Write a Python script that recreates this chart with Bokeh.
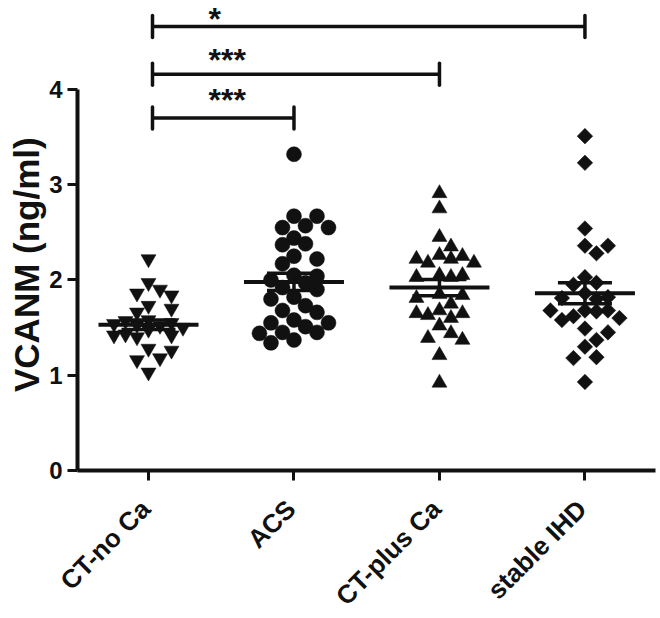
import math
import numpy as np
from bokeh.plotting import figure
from bokeh.models import FixedTicker, Range1d, ColumnDataSource
from bokeh.core.properties import value
from bokeh.embed import file_html
from bokeh.resources import INLINE

# ---------------- data ----------------
categories = ["CT-no Ca", "ACS", "CT-plus Ca", "stable IHD"]

ct_no_ca = [2.22, 1.97, 1.90, 1.86, 1.84, 1.73, 1.70, 1.66, 1.58, 1.57, 1.55,
            1.54, 1.53, 1.52, 1.50, 1.48, 1.43, 1.42, 1.42, 1.40, 1.28, 1.26,
            1.18, 1.16, 1.03]
acs = [3.32, 2.67, 2.67, 2.57, 2.55, 2.55, 2.44, 2.38, 2.37, 2.25, 2.22, 2.17,
       2.05, 2.04, 2.00, 1.97, 1.92, 1.90, 1.82, 1.80, 1.73, 1.68, 1.66, 1.58,
       1.55, 1.55, 1.51, 1.45, 1.44, 1.45, 1.37, 1.34]
ct_plus_ca = [2.91, 2.75, 2.45, 2.35, 2.26, 2.25, 2.22, 2.22, 2.18, 2.18, 2.05,
              2.05, 2.03, 2.03, 1.85, 1.84, 1.81, 1.75, 1.68, 1.65, 1.65, 1.63,
              1.60, 1.52, 1.44, 1.39, 1.37, 1.21, 0.92]
stable_ihd = [3.51, 3.23, 2.54, 2.36, 2.36, 2.28, 2.03, 1.97, 1.95, 1.86, 1.82,
              1.81, 1.80, 1.68, 1.68, 1.68, 1.67, 1.62, 1.60, 1.58, 1.49, 1.45,
              1.37, 1.30, 1.19, 1.18, 0.93]

group_means = [1.53, 1.98, 1.92, 1.86]
group_sems = [0.05, 0.09, 0.085, 0.11]

sig_labels = ["***", "***", "*"]
sig_from = [1, 1, 1]
sig_to = [2, 3, 4]
sig_levels = [3.70, 4.16, 4.66]

y_ticks = [0, 1, 2, 3, 4]
y_title = "VCANM (ng/ml)"

# ---------------- layout / style ----------------
W, H = 660, 618
H_LAB = 126                      # strip below the axis for the category labels
H_MAIN = H - H_LAB
BL, BR, BT, BB = 77, 5, 0, H_MAIN - 470
X0, X1 = 0.512, 4.485
Y0, Y1 = 0.0, 4.934
px_x = (W - BL - BR) / (X1 - X0)
px_y = (H_MAIN - BT - BB) / (Y1 - Y0)
INK = "#111111"
FONT = "Liberation Sans"

p = figure(width=W, height=H_MAIN, output_backend="svg", toolbar_location=None,
           x_range=Range1d(X0, X1), y_range=Range1d(Y0, Y1),
           min_border_left=BL, min_border_right=BR, min_border_top=BT,
           min_border_bottom=BB)
p.outline_line_color = None
p.grid.visible = False
p.background_fill_color = "white"
p.border_fill_color = "white"


def swarm(vals, step_px=11.5, dmin=12.5, max_cols=3):
    """Greedy column swarm: horizontal offsets (data units) for the values."""
    order = np.argsort(-np.asarray(vals), kind="stable")
    placed = []
    offs = [0.0] * len(vals)
    cands = [0]
    for k in range(1, max_cols + 1):
        cands += [k, -k]
    for idx in order:
        v = vals[idx]
        best, best_d = 0, -1.0
        for c in cands:
            x = c * step_px
            d = min([math.hypot(x - px, (v - pv) * px_y) for (px, pv) in placed]
                    or [1e9])
            if d >= dmin:
                best = c
                break
            if d > best_d:
                best, best_d = c, d
        x = best * step_px
        placed.append((x, v))
        offs[idx] = x / px_x
    return offs


groups = [ct_no_ca, acs, ct_plus_ca, stable_ihd]
markers = ["inverted_triangle", "circle", "triangle", "square"]
sizes = [15, 15, 15, 11]
angles = [0, 0, 0, math.pi / 4]

for i, vals in enumerate(groups):
    offs = swarm(vals)
    xs = [i + 1 + o for o in offs]
    src = ColumnDataSource(dict(x=xs, y=vals))
    p.scatter("x", "y", source=src, marker=markers[i], size=sizes[i],
              angle=angles[i], fill_color=INK, line_color=INK, line_width=0.5)

# mean and SEM
cx = [i + 1 for i in range(4)]
mean_half = 50 / px_x
sem_half = 27 / px_x
p.segment(x0=[c - mean_half for c in cx], x1=[c + mean_half for c in cx],
          y0=group_means, y1=group_means, line_color=INK, line_width=4)
up = [m + s for m, s in zip(group_means, group_sems)]
lo = [m - s for m, s in zip(group_means, group_sems)]
p.segment(x0=[c - sem_half for c in cx], x1=[c + sem_half for c in cx],
          y0=up, y1=up, line_color=INK, line_width=3.5)
p.segment(x0=[c - sem_half for c in cx], x1=[c + sem_half for c in cx],
          y0=lo, y1=lo, line_color=INK, line_width=3.5)
p.segment(x0=cx, x1=cx, y0=lo, y1=up, line_color=INK, line_width=3.5)

# significance brackets
tick_h = 11 / px_y
bx0 = [a + 4 / px_x for a in sig_from]
bx1 = sig_to
p.segment(x0=bx0, x1=bx1, y0=sig_levels, y1=sig_levels, line_color=INK,
          line_width=3.5)
p.segment(x0=bx0, x1=bx0, y0=[l - tick_h for l in sig_levels],
          y1=[l + tick_h for l in sig_levels], line_color=INK, line_width=3.5,
          line_cap="round")
p.segment(x0=bx1, x1=bx1, y0=[l - tick_h for l in sig_levels],
          y1=[l + tick_h for l in sig_levels], line_color=INK, line_width=3.5,
          line_cap="round")
star_lift_px = [21.5, 18.3, 14.5]   # star centre above its bracket
star_fs = 32
star_k = 0.45 * star_fs             # star centre below the top of the text box
star_y = [min(l + (lift + star_k) / px_y, Y1 - 0.5 / px_y)
          for l, lift in zip(sig_levels, star_lift_px)]
star_x = [a + 60 / px_x for a in sig_from]
p.text(x=star_x, y=star_y, text=sig_labels, text_font=value(FONT),
       text_font_style="bold", text_font_size=f"{star_fs}px", text_align="left",
       text_baseline="top", text_color=INK)

# axes
for ax in (p.xaxis[0], p.yaxis[0]):
    ax.axis_line_width = 4
    ax.axis_line_color = INK
    ax.major_tick_line_width = 3
    ax.major_tick_line_color = INK
    ax.major_tick_in = 0
    ax.major_tick_out = 10
    ax.minor_tick_line_color = None
    ax.major_label_text_font = FONT
    ax.major_label_text_font_style = "bold"
    ax.major_label_text_color = INK

p.xaxis.ticker = FixedTicker(ticks=[1, 2, 3, 4])
p.xaxis.major_label_overrides = {i + 1: "" for i in range(4)}
p.xaxis.major_label_text_font_size = "0px"
p.xaxis.major_label_standoff = 0

p.yaxis.ticker = FixedTicker(ticks=y_ticks)
p.yaxis.bounds = (0, 4)
p.yaxis.major_label_text_font_size = "24px"
p.yaxis.major_label_standoff = 5
p.yaxis.axis_label = y_title + "\u00a0" * 6
p.yaxis.axis_label_text_font = FONT
p.yaxis.axis_label_text_font_style = "bold"
p.yaxis.axis_label_text_font_size = "35px"
p.yaxis.axis_label_text_color = INK
p.yaxis.axis_label_standoff = 0

# strip with the rotated category labels (same x mapping as the plot)
p2 = figure(width=W, height=H_LAB, output_backend="svg", toolbar_location=None,
            x_range=Range1d(X0 - BL / px_x, X1 + BR / px_x),
            y_range=Range1d(0, H_LAB), x_axis_location=None,
            y_axis_location=None, min_border=0)
p2.min_border_left = p2.min_border_right = 0
p2.min_border_top = p2.min_border_bottom = 0
p2.outline_line_color = None
p2.grid.visible = False
p2.background_fill_color = "white"
p2.border_fill_color = "white"
lab_src = ColumnDataSource(dict(x=[i + 1 - 3 / px_x for i in range(4)],
                                y=[H - 504] * 4, text=categories))
p2.text(x="x", y="y", text="text", source=lab_src, angle=math.pi / 4,
        text_align="right", text_baseline="middle", text_font=value(FONT),
        text_font_style="bold", text_font_size="26px", text_color=INK)

open("out.html", "w").write(file_html([p, p2], INLINE))
